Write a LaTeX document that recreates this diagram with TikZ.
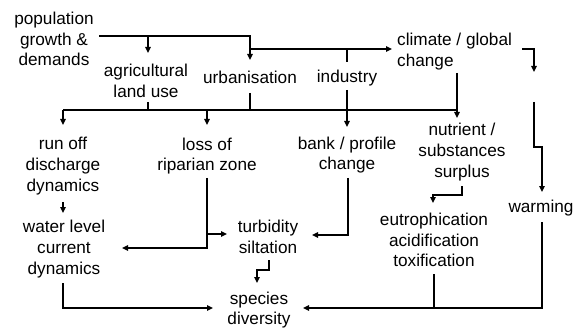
\documentclass[tikz,border=0pt]{standalone}
\usepackage{fontspec}
\setmainfont{Liberation Sans}
\usetikzlibrary{arrows.meta}
\begin{document}
\begin{tikzpicture}[x=1pt,y=-1pt,
  lbl/.style={align=center,inner sep=0pt,font=\fontsize{17.2}{20.8}\selectfont},
  conn/.style={line width=1.8pt,line join=miter},
  mainln/.style={line width=2.6pt},
  arr/.style={-{Triangle[length=6pt,width=5.5pt]}}]
\useasboundingbox (0,0) rectangle (582,329);
% nodes
\node[lbl] (pop) at (54,39) {population\\growth \&\\demands};
\node[lbl] (agri) at (146,81) {agricultural\\land use};
\node[lbl] (urb) at (250,77) {urbanisation};
\node[lbl] (ind) at (347,78) {industry};
\node[lbl,align=left,anchor=west] (clim) at (397,51.5) {climate / global\\change};
\node[lbl] (runoff) at (63,166) {run off\\discharge\\dynamics};
\node[lbl] (loss) at (207,156) {loss of\\riparian zone};
\node[lbl] (bank) at (347,155) {bank / profile\\change};
\node[lbl] (nutr) at (462,152) {nutrient /\\substances\\surplus};
\node[lbl] (warm) at (541,208) {warming};
\node[lbl] (water) at (64,249) {water level\\current\\dynamics};
\node[lbl] (turb) at (268,237) {turbidity\\siltation};
\node[lbl] (eutro) at (434,240) {eutrophication\\acidification\\toxification};
\node[lbl] (spec) at (259,310) {species\\diversity};
% junction coordinates
\coordinate (pj1) at (148,36);
\coordinate (pj2) at (250,36);
\coordinate (uj) at (250,49);
\coordinate (ij) at (347,49);
\coordinate (m0) at (63,110);
\coordinate (m1) at (148,110);
\coordinate (m2) at (207,110);
\coordinate (m3) at (250,110);
\coordinate (m4) at (347,110);
\coordinate (m5) at (457,110);
% top connectors
\draw[conn,arr] (99,36) -- (pj2) -- (250,60);
\draw[conn,arr] (pj1) -- (148,53);
\draw[conn,arr] (uj) -- (392,49);
\draw[conn] (347,62) -- (ij);
\draw[conn] (148,102) -- (m1);
\draw[conn] (250,93) -- (m3);
% main line
\draw[mainln] (m0) -- (m5);
\draw[conn,arr] (m0) -- (63,125);
\draw[conn,arr] (m2) -- (207,125);
\draw[conn,arr] (347,90) -- (347,127);
\draw[conn,arr] (457,73) -- (457,118);
% climate to warming
\draw[conn,arr] (522,49) -- (534,49) -- (534,72);
\draw[conn,arr] (534,102) -- (534,147) -- (542,147) -- (542,192);
% middle connectors
\draw[conn,arr] (63,202) -- (63,213);
\draw[conn,arr] (207,178) -- (207,248) -- (122,248);
\draw[conn,arr] (207,234) -- (227,234);
\draw[conn,arr] (348,178) -- (348,235) -- (312,235);
\draw[conn,arr] (462,186) -- (462,195) -- (433,195) -- (433,203);
% bottom connectors
\draw[conn,arr] (269,260) -- (269,270) -- (257,270) -- (257,283);
\draw[conn,arr] (63,283) -- (63,308) -- (213,308);
\draw[conn] (434,274) -- (434,308);
\draw[conn,arr] (542,222) -- (542,308) -- (303,308);
\end{tikzpicture}
\end{document}
